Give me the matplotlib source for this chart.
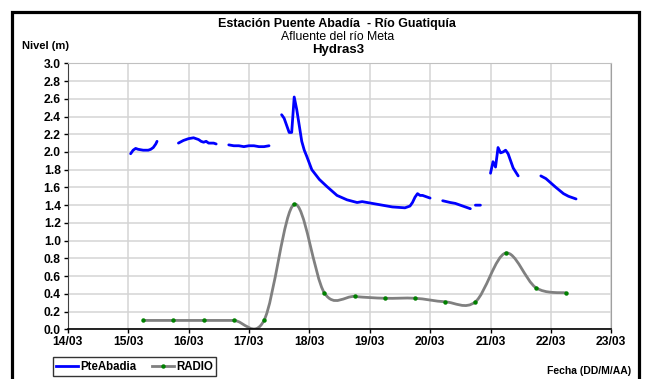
import matplotlib
matplotlib.use("Agg")
import matplotlib.pyplot as plt
import matplotlib.dates as mdates
from matplotlib.path import Path
from matplotlib.patches import PathPatch, Rectangle
from matplotlib.lines import Line2D
import numpy as np
import pandas as pd

plt.rcParams['font.family'] = ['Liberation Sans', 'DejaVu Sans']

# nivel PteAbadia (m), None = sin dato
pte_horas = [
    "15/03 01:00", "15/03 02:00", "15/03 03:00", "15/03 04:00", "15/03 06:00", "15/03 08:00",
    "15/03 09:00", "15/03 10:00", "15/03 11:00", "15/03 11:30", "15/03 15:00",
    "15/03 20:00", "15/03 22:00", "16/03 00:00", "16/03 02:00", "16/03 04:00", "16/03 05:00",
    "16/03 06:00", "16/03 07:00", "16/03 08:00", "16/03 10:00", "16/03 11:00", "16/03 13:00",
    "16/03 16:00", "16/03 18:00", "16/03 20:00", "16/03 22:00", "17/03 00:00", "17/03 02:00",
    "17/03 04:00", "17/03 06:00", "17/03 08:00", "17/03 10:00",
    "17/03 13:00", "17/03 14:00", "17/03 15:00", "17/03 16:00", "17/03 17:00", "17/03 18:00",
    "17/03 19:00", "17/03 20:00", "17/03 21:00", "17/03 22:00", "17/03 23:00", "18/03 01:00",
    "18/03 04:00", "18/03 07:00", "18/03 11:00", "18/03 15:00", "18/03 19:00", "18/03 21:00",
    "19/03 01:00", "19/03 05:00", "19/03 09:00", "19/03 14:00", "19/03 16:00", "19/03 17:00",
    "19/03 18:00", "19/03 19:00", "19/03 20:00", "19/03 21:00", "19/03 22:00", "20/03 00:00",
    "20/03 02:00",
    "20/03 05:00", "20/03 08:00", "20/03 10:00", "20/03 12:00", "20/03 14:00", "20/03 16:00",
    "20/03 17:00",
    "20/03 18:00", "20/03 20:00", "20/03 22:00",
    "21/03 00:00", "21/03 01:00", "21/03 02:00", "21/03 03:00", "21/03 04:00", "21/03 05:00",
    "21/03 06:00", "21/03 07:00", "21/03 08:00", "21/03 09:00", "21/03 11:00", "21/03 15:00",
    "21/03 20:00", "21/03 22:00", "22/03 00:00", "22/03 02:00", "22/03 05:00", "22/03 07:00",
    "22/03 10:00",
]
pte_nivel = [
    1.98, 2.02, 2.04, 2.03, 2.02, 2.02,
    2.03, 2.05, 2.09, 2.12, None,
    2.10, 2.13, 2.15, 2.16, 2.14, 2.12,
    2.11, 2.12, 2.10, 2.10, 2.09, None,
    2.08, 2.07, 2.07, 2.06, 2.07, 2.07,
    2.06, 2.06, 2.07, None,
    2.42, 2.38, 2.30, 2.22, 2.22, 2.62,
    2.48, 2.30, 2.12, 2.02, 1.95, 1.80,
    1.69, 1.61, 1.51, 1.46, 1.43, 1.44,
    1.42, 1.40, 1.38, 1.37, 1.39, 1.43,
    1.49, 1.53, 1.51, 1.51, 1.50, 1.48,
    None,
    1.45, 1.43, 1.42, 1.40, 1.38, 1.36,
    None,
    1.40, 1.40, None,
    1.76, 1.89, 1.83, 2.05, 1.99, 2.00,
    2.02, 1.98, 1.90, 1.82, 1.73, None,
    1.73, 1.70, 1.65, 1.60, 1.53, 1.50,
    1.47,
]

# RADIO
radio_horas = [
    "15/03 06:00", "15/03 18:00", "16/03 06:00", "16/03 18:00", "17/03 06:00",
    "17/03 18:00", "18/03 06:00", "18/03 18:00", "19/03 06:00", "19/03 18:00",
    "20/03 06:00", "20/03 18:00", "21/03 06:00", "21/03 18:00", "22/03 06:00",
]
radio_nivel = [0.10, 0.10, 0.10, 0.10, 0.10, 1.41, 0.41, 0.37, 0.35, 0.35,
               0.31, 0.31, 0.86, 0.47, 0.41]


def fechas(lst):
    return pd.to_datetime(["2011/" + s for s in lst], format="%Y/%d/%m %H:%M")


t_pte = fechas(pte_horas)
y_pte = np.array([np.nan if v is None else v for v in pte_nivel])
t_radio = fechas(radio_horas)
y_radio = np.array(radio_nivel)

fig = plt.figure(figsize=(6.48, 3.79), dpi=100)
ax = fig.add_axes([67.7 / 648, 1 - 329.3 / 379, (611.3 - 67.7) / 648, (329.3 - 63.3) / 379])

ax.plot(t_pte, y_pte, color='#0000ff', lw=2.0, solid_capstyle='round', zorder=3)

# linea suavizada tipo Excel (bezier)
xr = mdates.date2num(t_radio)
pts = np.column_stack([xr, y_radio])
verts = [pts[0]]
codes = [Path.MOVETO]
n = len(pts)
for i in range(n - 1):
    p0 = pts[i - 1] if i > 0 else pts[i]
    p1 = pts[i]
    p2 = pts[i + 1]
    p3 = pts[i + 2] if i + 2 < n else pts[i + 1]
    c1 = p1 + (p2 - p0) / 6.0
    c2 = p2 - (p3 - p1) / 6.0
    verts += [c1, c2, p2]
    codes += [Path.CURVE4] * 3
ax.add_patch(PathPatch(Path(verts, codes), fill=False, edgecolor='#808080', lw=2.0, zorder=2))
ax.plot(t_radio, y_radio, ls='none', marker='o', ms=3.2, mew=0, color='#008000', zorder=4)

ax.set_ylim(0, 3.0)
ax.set_xlim(pd.Timestamp("2011-03-14"), pd.Timestamp("2011-03-23"))
ax.set_yticks(np.arange(0, 3.01, 0.2))
ax.yaxis.set_major_formatter(plt.FormatStrFormatter('%.1f'))
ax.xaxis.set_major_locator(mdates.DayLocator())
ax.xaxis.set_major_formatter(mdates.DateFormatter('%d/%m'))
ax.grid(True, color='#d4d4d4', lw=1.1)
ax.set_axisbelow(True)
ax.tick_params(axis='both', direction='out', length=3, width=1, labelsize=8.7, pad=2)
for lab in ax.get_xticklabels() + ax.get_yticklabels():
    lab.set_fontweight('bold')
ax.spines['left'].set_color('#404040')
ax.spines['bottom'].set_color('black')
ax.spines['bottom'].set_linewidth(1.2)
ax.spines['top'].set_color('#c0c0c0')
ax.spines['right'].set_color('#a0a0a0')

fig.text(337 / 648, 1 - 24.5 / 379, "Estación Puente Abadía  - Río Guatiquía", ha='center', va='center',
         fontsize=9, fontweight='bold')
fig.text(338 / 648, 1 - 37.5 / 379, "Afluente del río Meta", ha='center', va='center', fontsize=8.8)
fig.text(338 / 648, 1 - 50 / 379, "Hydras3", ha='center', va='center', fontsize=9.5, fontweight='bold')
fig.text(22 / 648, 1 - 46 / 379, "Nivel (m)", ha='left', va='center', fontsize=8, fontweight='bold')
fig.text(631 / 648, 1 - 371.5 / 379, "Fecha (DD/M/AA)", ha='right', va='center', fontsize=7.5,
         fontweight='bold')

handles = [Line2D([], [], color='#0000ff', lw=2.0),
           Line2D([], [], color='#808080', lw=2.0, marker='o', ms=3.2, mew=0, mfc='#008000')]
leg = fig.legend(handles, ['PteAbadia', 'RADIO'], loc='lower left', ncol=2,
                 bbox_to_anchor=(53 / 648, 1 - 376 / 379), borderaxespad=0, frameon=True,
                 fancybox=False, edgecolor='black', handlelength=1.9, handletextpad=0.2,
                 columnspacing=1.3, borderpad=0.3, prop={'size': 8.3, 'weight': 'bold'})
leg.get_frame().set_linewidth(1.0)

fig.add_artist(Rectangle((11.5 / 648, -0.05), (638.5 - 11.5) / 648, 1.05 - 11.5 / 379,
                         transform=fig.transFigure, fill=False, lw=2.3, edgecolor='black'))

fig.savefig("out.png", dpi=100)
